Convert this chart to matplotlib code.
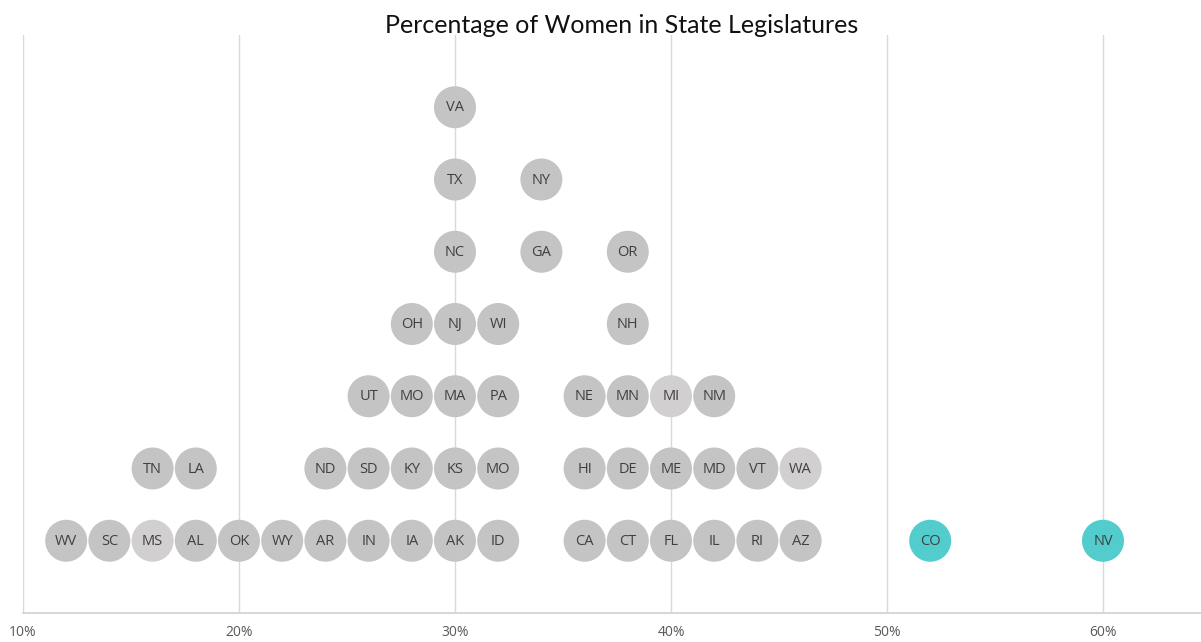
import matplotlib.pyplot as plt

# one entry per state: label, bin (percent of seats held by women), stack level
states = ["WV", "SC", "MS", "AL", "OK", "WY", "AR", "IN", "IA", "AK", "ID",
          "CA", "CT", "FL", "IL", "RI", "AZ", "CO", "NV",
          "TN", "LA", "ND", "SD", "KY", "KS", "MO", "HI", "DE", "ME", "MD", "VT", "WA",
          "UT", "MO", "MA", "PA", "NE", "MN", "MI", "NM",
          "OH", "NJ", "WI", "NH",
          "NC", "GA", "OR",
          "TX", "NY",
          "VA"]
pct = [12, 14, 16, 18, 20, 22, 24, 26, 28, 30, 32,
       36, 38, 40, 42, 44, 46, 52, 60,
       16, 18, 24, 26, 28, 30, 32, 36, 38, 40, 42, 44, 46,
       26, 28, 30, 32, 36, 38, 40, 42,
       28, 30, 32, 38,
       30, 34, 38,
       30, 34,
       30]
level = [1] * 19 + [2] * 13 + [3] * 8 + [4] * 4 + [5] * 3 + [6] * 2 + [7]
light = ["MS", "MI", "WA"]
teal = ["CO", "NV"]

GRAY = "#c4c4c4"
LIGHT = "#d1cfcf"
TEAL = "#52cccc"

fig = plt.figure(figsize=(12.01, 6.42), dpi=100)
ax = fig.add_axes([23 / 1201, 29 / 642, 1 - 23 / 1201, 578 / 642])

for st, p, lv in zip(states, pct, level):
    if st in teal:
        c = TEAL
    elif st in light:
        c = LIGHT
    else:
        c = GRAY
    ax.scatter(p, lv, s=915, color=c, edgecolors="none", zorder=3)
    ax.text(p, lv - 0.01, st, ha="center", va="center", fontsize=10.5,
            family="Open Sans", color="#404040", zorder=4)

ax.set_xlim(10, 10 + 1178 / 21.6)
ax.set_ylim(0, 8)
ax.set_xticks(range(10, 61, 10))
ax.set_xticklabels([f"{v}%" for v in range(10, 61, 10)], fontsize=10,
                   color="#595959", family="Open Sans")
ax.set_yticks([])
ax.tick_params(axis="x", length=0, pad=9)
ax.grid(axis="x", color="#d9d9d9", lw=1, zorder=0)
for s in ["top", "right", "left"]:
    ax.spines[s].set_visible(False)
ax.spines["bottom"].set_color("#d0d0d0")
ax.spines["bottom"].set_linewidth(1.2)
ax.set_axisbelow(True)

fig.text(0.518, 0.961, "Percentage of Women in State Legislatures",
         ha="center", va="center", fontsize=18, family="Lato", color="#111111")

fig.savefig("out.png", dpi=100)
